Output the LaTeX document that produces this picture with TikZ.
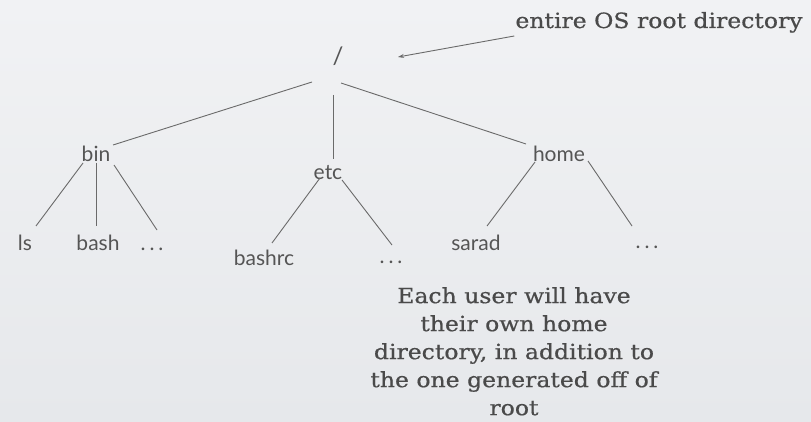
\documentclass[tikz,border=0pt]{standalone}
\usepackage{fontspec}
\setmainfont{Lato}
\newfontfamily\slab[FakeStretch=1.12,FakeBold=0.6]{DejaVu Serif}
\usetikzlibrary{calc,arrows.meta}
\definecolor{txt}{HTML}{555555}
\definecolor{ntxt}{HTML}{4A4A4A}
\definecolor{ln}{HTML}{6A6A6A}
\definecolor{bgA}{HTML}{F1F2F4}
\definecolor{bgB}{HTML}{E6E8EB}
\newcommand{\spdots}{.\hspace{4pt}.\hspace{4pt}.}
\begin{document}
\begin{tikzpicture}[x=1pt,y=-1pt,
  lbl/.style={font=\fontsize{21}{24}\selectfont, text=txt, inner sep=0pt, anchor=base},
  edge/.style={draw=ln, line width=0.9pt},
  note/.style={font=\slab\fontsize{21}{28}\selectfont, text=ntxt, inner sep=0pt, align=center}]
\shade[top color=bgA, bottom color=bgB] (0,0) rectangle (811,422);
\useasboundingbox (0,0) rectangle (811,422);
% nodes
\node[lbl, font=\fontsize{24}{26}\selectfont] (root) at (338,65) {/};
\node[lbl] (bin) at (96,162) {bin};
\node[lbl] (etc) at (328,180) {etc};
\node[lbl] (home) at (559,162) {home};
\node[lbl] (ls) at (25,250) {ls};
\node[lbl] (bash) at (98,250) {bash};
\node[lbl] (bindots) at (152,250) {\spdots};
\node[lbl] (bashrc) at (264,265) {bashrc};
\node[lbl] (etcdots) at (391,263) {\spdots};
\node[lbl] (sarad) at (476,250) {sarad};
\node[lbl] (homedots) at (647,248) {\spdots};
% edges
\draw[edge] ($(root.base)+(-26,17)$) -- ($(bin.base)+(17,-17)$);
\draw[edge] ($(root.base)+(-5,30)$) -- ($(etc.base)+(5,-21)$);
\draw[edge] ($(root.base)+(3,18)$) -- ($(home.base)+(-33,-18)$);
\draw[edge] ($(bin.base)+(-13,1)$) -- ($(ls.base)+(11,-24)$);
\draw[edge] ($(bin.base)+(0,1)$) -- ($(bash.base)+(-2,-24)$);
\draw[edge] ($(bin.base)+(18,3)$) -- ($(bindots.base)+(5,-20)$);
\draw[edge] ($(etc.base)+(-8,-2)$) -- ($(bashrc.base)+(8,-22)$);
\draw[edge] ($(etc.base)+(14,0)$) -- ($(etcdots.base)+(1,-18)$);
\draw[edge] ($(home.base)+(-24,0)$) -- ($(sarad.base)+(11,-24)$);
\draw[edge] ($(home.base)+(29,-1)$) -- ($(homedots.base)+(-15,-22)$);
% annotations
\node[note, anchor=base] (rootnote) at (659,28) {entire OS root directory};
\coordinate (tip) at ($(root.base)+(60,-8)$);
\draw[edge, -{Stealth[length=6pt,width=4pt]}] ($(rootnote.base west)+(-1,8)$) -- (tip);
\node[note, anchor=north] (usernote) at (514,287) {Each user will have\\their own home\\directory, in addition to\\the one generated off of\\root};
\end{tikzpicture}
\end{document}
